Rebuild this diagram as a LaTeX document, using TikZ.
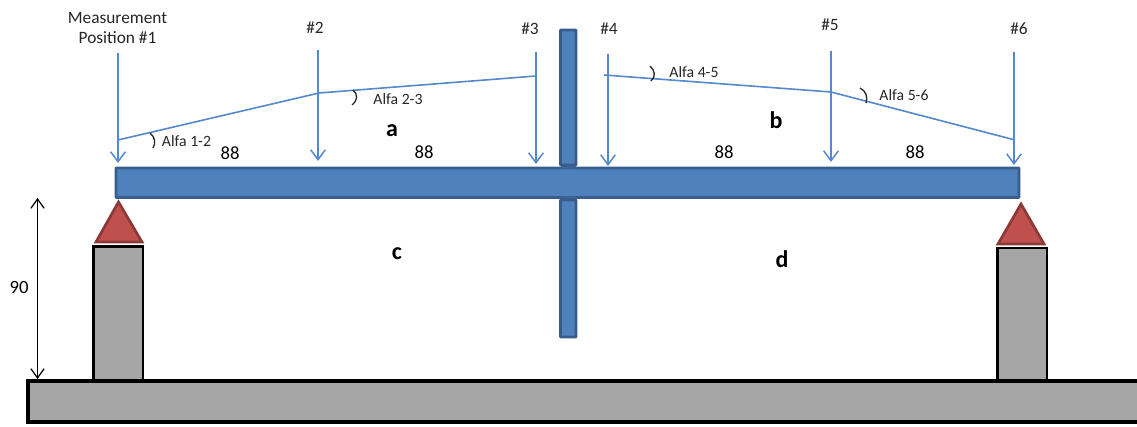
\documentclass[tikz,border=0pt]{standalone}
\usepackage{fontspec}
\setmainfont{Carlito}
\usetikzlibrary{arrows.meta}
\definecolor{beamfill}{HTML}{4F81BD}
\definecolor{beamline}{HTML}{385D8A}
\definecolor{arrowblue}{HTML}{5588CC}
\definecolor{redfill}{HTML}{C0504D}
\definecolor{redline}{HTML}{8C3836}
\definecolor{greyfill}{HTML}{A6A6A6}
\tikzset{
  beam/.style={draw=beamline,fill=beamfill,line width=2.2pt,rounded corners=0.5pt},
  support/.style={draw=redline,fill=redfill,line width=2pt,line join=miter},
  post/.style={draw=black,fill=greyfill,line width=1.8pt},
  base/.style={draw=black,fill=greyfill,line width=3pt},
  probe/.style={draw=arrowblue,line width=1.1pt,-{Straight Barb[length=7.5pt,width=11pt,line width=1.1pt]}},
  profile/.style={draw=arrowblue,line width=1.2pt},
  dimarrow/.style={draw=black,line width=0.9pt,{Straight Barb[length=7pt,width=10pt]}-{Straight Barb[length=7pt,width=10pt]}},
  anglemark/.style={draw=black!85,line width=1pt},
  large/.style={font=\fontsize{13pt}{15pt}\selectfont,text=black!85,inner sep=0pt},
  small/.style={font=\fontsize{11.8pt}{14pt}\selectfont,text=black!85,inner sep=0pt},
  dim/.style={font=\fontsize{14pt}{16pt}\selectfont,text=black,inner sep=0pt},
  region/.style={font=\bfseries\fontsize{18pt}{20pt}\selectfont,text=black,inner sep=0pt},
}
\begin{document}
\begin{tikzpicture}[x=0.75pt,y=-0.75pt]
\useasboundingbox (0,0) rectangle (1137,427);
\begin{scope}
\clip (0,0) rectangle (1137,427);
\draw[base] (28,381) rectangle (1160,422);
\end{scope}
\draw[post] (93.5,246.5) rectangle (143,380);
\draw[post] (997.5,248) rectangle (1047,380);
\draw[support] (118.5,202) -- (142,242) -- (96,242) -- cycle;
\draw[support] (1021,204) -- (1044,244) -- (998,244) -- cycle;
\draw[beam] (560.5,30) rectangle (576,165);
\draw[beam] (560.5,200) rectangle (576,337);
\draw[beam] (116,168) rectangle (1019,197.5);
\fill[beamline!85!beamfill] (561,166.5) rectangle (576,169.5);
\fill[beamline!85!beamfill] (561,196) rectangle (576,199);

\coordinate (p1t) at (118,53);  \coordinate (p1b) at (118,163);
\coordinate (p2t) at (318,50);  \coordinate (p2b) at (318,161);
\coordinate (p3t) at (536,52);  \coordinate (p3b) at (536,164);
\coordinate (p4t) at (608,54);  \coordinate (p4b) at (608,166);
\coordinate (p5t) at (831,51);  \coordinate (p5b) at (831,162);
\coordinate (p6t) at (1014,52); \coordinate (p6b) at (1014,165);
\foreach \i in {1,...,6} \draw[probe] (p\i t) -- (p\i b);

\coordinate (q1) at (118,140); \coordinate (q2) at (319,93); \coordinate (q3) at (536,76);
\coordinate (q4) at (604,75);  \coordinate (q5) at (831,92); \coordinate (q6) at (1015,140);
\draw[profile] (q1) -- (q2) -- (q3);
\draw[profile] (q4) -- (q5) -- (q6);

\draw[anglemark] (150,133) .. controls (155,137) and (156,143) .. (153,148);
\draw[anglemark] (353,90) .. controls (358,94) and (358,100) .. (352,105);
\draw[anglemark] (650,66) .. controls (655,70) and (656,77) .. (651,81);
\draw[anglemark] (860,88) .. controls (866,91) and (868,97) .. (866,103);

\draw[dimarrow] (37.5,198) -- (37.5,379);

\node[large,align=center] (m1) at (117.5,28) {Measurement\\[0.5pt]Position \#1};
\node[large] (m2) at (315,27.5) {\#2};
\node[large] (m3) at (530,28.5) {\#3};
\node[large] (m4) at (609,28.5) {\#4};
\node[large] (m5) at (830,24.5) {\#5};
\node[large] (m6) at (1019,28.5) {\#6};
\node[small] (a12) at (186.5,141) {Alfa 1-2};
\node[small] (a23) at (398,99) {Alfa 2-3};
\node[small] (a45) at (694,72) {Alfa 4-5};
\node[small] (a56) at (904,95) {Alfa 5-6};
\node[dim] (d1) at (230,153) {88};
\node[dim] (d2) at (424,152) {88};
\node[dim] (d3) at (724,152) {88};
\node[dim] (d4) at (915,152) {88};
\node[dim] (h) at (19,288) {90};
\node[region] (ra) at (392,130.5) {a};
\node[region] (rb) at (776,120) {b};
\node[region] (rc) at (397,253.5) {c};
\node[region] (rd) at (782,259) {d};
\end{tikzpicture}
\end{document}
